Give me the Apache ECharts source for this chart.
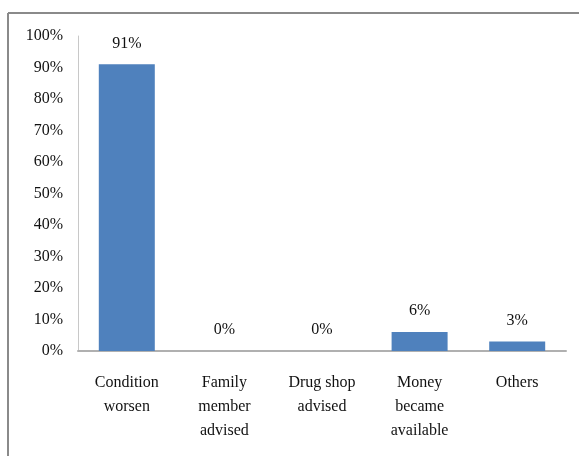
<!DOCTYPE html>
<html>
<head>
<meta charset="utf-8">
<script src="https://cdn.jsdelivr.net/npm/echarts@6/dist/echarts.min.js"></script>
<style>
  html, body { margin: 0; padding: 0; background: #fff; }
  #chart { width: 579px; height: 456px; }
</style>
</head>
<body>
<div id="chart"></div>
<script>
// Reasons reported, share of respondents (%)
const categories = [
  'Condition\nworsen',
  'Family\nmember\nadvised',
  'Drug shop\nadvised',
  'Money\nbecame\navailable',
  'Others'
];
const shares = [91, 0, 0, 6, 3];
const yTicks = { min: 0, max: 100, step: 10 };

const serif = '"Liberation Serif", "Times New Roman", serif';
const chart = echarts.init(document.getElementById('chart'), null, { renderer: 'canvas' });

chart.setOption({
  animation: false,
  backgroundColor: '#ffffff',
  textStyle: { fontFamily: serif },
  graphic: [
    // frame lines along the top and left edges
    { type: 'line', shape: { x1: 8, y1: 13, x2: 579, y2: 13 },
      style: { stroke: '#8a8a8a', lineWidth: 2 } },
    { type: 'line', shape: { x1: 8, y1: 13, x2: 8, y2: 456 },
      style: { stroke: '#8a8a8a', lineWidth: 2 } }
  ],
  grid: { left: 78, right: 13, top: 36, bottom: 105, containLabel: false },
  xAxis: {
    type: 'category',
    data: categories,
    axisLine: { show: true, lineStyle: { color: '#b0b0b0', width: 2 } },
    axisTick: { show: false },
    axisLabel: {
      interval: 0,
      margin: 20,
      color: '#111',
      fontFamily: serif,
      fontSize: 16,
      lineHeight: 24
    }
  },
  yAxis: {
    type: 'value',
    min: yTicks.min,
    max: yTicks.max,
    interval: yTicks.step,
    splitLine: { show: false },
    axisLine: { show: true, lineStyle: { color: '#c8c8c8', width: 1 } },
    axisTick: { show: false },
    axisLabel: {
      margin: 15,
      color: '#111',
      fontFamily: serif,
      fontSize: 16,
      formatter: v => v + '%'
    }
  },
  series: [{
    type: 'bar',
    data: shares,
    barWidth: 56,
    itemStyle: { color: '#4F81BD' },
    label: {
      show: true,
      position: 'top',
      distance: 13,
      color: '#111',
      fontFamily: serif,
      fontSize: 16,
      formatter: p => p.value + '%'
    }
  }]
});
</script>
</body>
</html>
